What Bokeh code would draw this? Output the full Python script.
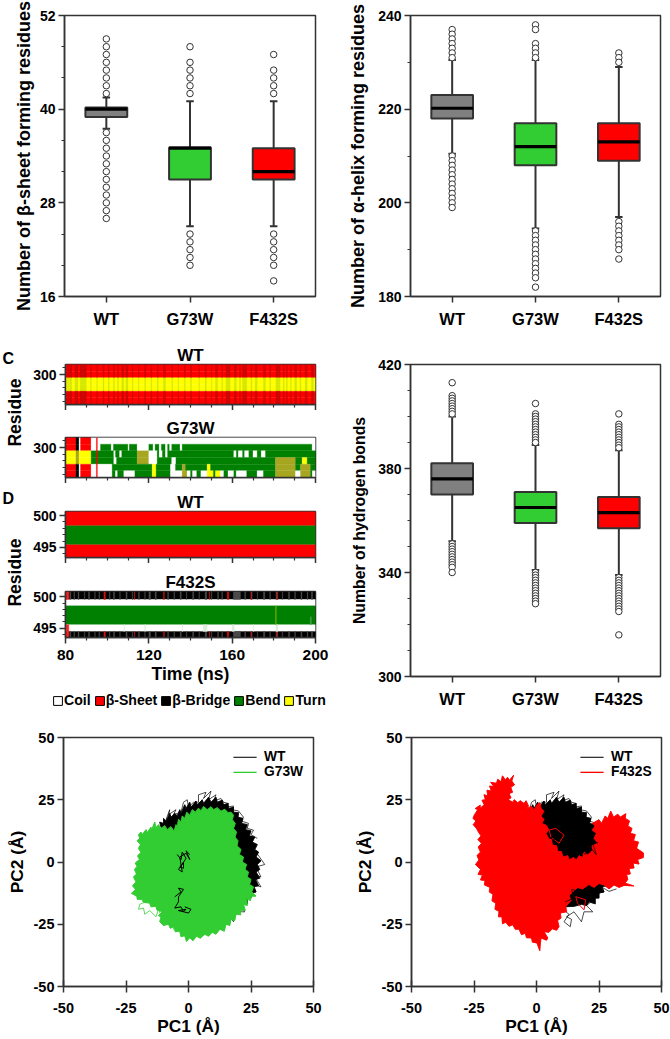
from bokeh.plotting import figure
from bokeh.layouts import column, row
from bokeh.models import (Range1d, FixedTicker, Label, Legend, LegendItem)
from bokeh.embed import file_html
from bokeh.resources import INLINE

FONT = "Liberation Sans"
DARK = "#333333"
GREY, LIME, RED = "#808080", "#32CD32", "#FF0000"
GROUPS = ["WT", "G73W", "F432S"]
BOX_COLORS = [GREY, LIME, RED]
NAN = float("nan")

# ---- box plot statistics: [whisker low, q1, median, q3, whisker high]
A_STATS = [[37.5, 39, 40, 40.2, 41.5], [25, 31, 35, 35.1, 41], [25, 31, 32, 35, 41]]
A_OUT = [[49, 48, 47, 46, 45, 44, 43, 42, 37, 36, 35, 34, 33, 32, 31, 30, 29, 28, 27, 26],
         [48, 46, 45, 44, 43, 42, 24, 23, 22, 21, 20],
         [47, 45, 44, 43, 42, 24, 23, 22, 21, 20, 18]]
B_STATS = [[210.5, 218, 220.2, 223, 230.5], [194.5, 208, 212, 217, 230.5], [197, 209, 213, 217, 229]]
B_OUT = [[237, 236, 235, 234, 233, 232, 231, 210, 209, 208, 207, 206, 205, 204, 203, 202, 201, 200, 199],
         [238, 237, 234, 233, 232, 231, 194, 193, 192, 191, 190, 189, 188, 187, 186, 185, 184, 182],
         [232, 231, 230, 196, 195, 194, 193, 192, 191, 190, 188]]
E_STATS = [[352, 370, 376, 382, 400], [341, 359, 365, 371, 389], [339, 357, 363, 369, 387]]
E_OUT = [[413, 408, 407, 406, 405, 404, 403, 402, 401, 351, 350, 349, 348, 347, 346, 345, 344, 343, 342, 340],
         [405, 401, 400, 399, 398, 397, 396, 395, 394, 393, 392, 391, 390, 340, 339, 338, 337, 336, 335, 334, 333, 332, 331, 330, 329, 328],
         [401, 397, 396, 395, 394, 393, 392, 391, 390, 389, 388, 338, 337, 336, 335, 334, 333, 332, 331, 330, 329, 328, 327, 326, 325, 316]]

# ---- secondary structure: per residue row, list of (run end in ns, state)
C_WT_BASE = {301: "s", 300: "s", 299: "y", 298: "y", 297: "s", 296: "s"}
C_WT_STREAKS = [(81, 81.5), (82, 83), (84.5, 86), (87, 90), (92, 92.4), (95, 95.3), (98, 98.5), (100.5, 101), (103, 103.5), (105, 105.4), (107, 108), (109, 110),
                (112, 112.4), (115, 115.3), (118, 118.5), (121, 121.4), (124, 124.5), (127, 128), (131, 131.4), (134, 134.3), (137, 137.5), (140, 140.5), (144, 144.3),
                (147, 147.6), (150, 150.3), (152, 153), (155, 155.4), (157, 159), (161, 162), (163.5, 164), (165, 167), (169, 169.5), (171, 172), (175, 176), (178, 178.5),
                (181, 183), (184.5, 185), (186, 186.5), (188, 188.4), (190, 191), (192.5, 193), (195, 196), (198, 199)]
C_G73W = {
    301: [(85, "s"), (86.5, "b"), (87.2, "c"), (92.3, "s"), (200, "c")],
    300: [(85, "s"), (86.5, "b"), (87.2, "c"), (92.3, "s"), (96.8, "c"), (102, "g"), (103, "c"), (110, "g"), (110.6, "c"),
          (114.4, "g"), (120, "c"), (122, "g"), (123, "c"), (125, "g"), (126, "c"), (128, "g"), (129, "c"), (130, "g"),
          (131, "c"), (135, "g"), (136, "c"), (198.4, "g"), (200, "c")],
    299: [(85, "y"), (86.5, "o"), (92.3, "y"), (103.2, "g"), (104, "c"), (106, "g"), (107, "c"), (114.4, "g"), (120, "o"),
          (124, "c"), (125, "g"), (126.5, "c"), (128, "g"), (129, "c"), (160.8, "g"), (162, "c"), (163, "g"), (165, "c"),
          (166, "g"), (168, "c"), (170, "g"), (172, "c"), (174, "g"), (176, "c"), (200, "g")],
    298: [(85, "y"), (86.5, "o"), (92.3, "y"), (103.2, "g"), (104.5, "c"), (114.4, "g"), (120, "o"), (124, "c"), (131, "g"),
          (133, "c"), (180.8, "g"), (190.4, "o"), (193.6, "g"), (196, "y"), (200, "g")],
    297: [(85, "s"), (86.5, "b"), (87.2, "c"), (92.3, "s"), (102.4, "c"), (121.6, "g"), (123.5, "y"), (130.4, "g"),
          (132.8, "c"), (136, "g"), (137.6, "o"), (148, "g"), (149.6, "y"), (180.8, "g"), (190.4, "o"), (192.8, "g"),
          (197.6, "o"), (200, "g")],
    296: [(85, "s"), (86.5, "b"), (87.2, "c"), (92.3, "s"), (102.4, "c"), (104, "g"), (105, "c"), (108, "g"), (113.3, "c"),
          (121.6, "g"), (123.5, "y"), (130.4, "g"), (136, "c"), (138.4, "o"), (140, "c"), (141, "g"), (143, "c"), (145, "g"),
          (148, "c"), (151, "y"), (152, "g"), (154.4, "y"), (156, "c"), (158, "g"), (160.8, "c"), (162, "g"), (167, "c"),
          (172, "g"), (175, "c"), (180.8, "g"), (190.4, "o"), (192.8, "c"), (197.6, "o"), (198.5, "g"), (200, "c")],
}
C_G73W_LINE = (94.8, 95.3)
D_WT_BANDS = [(498.4, 500.65, "s"), (495.4, 498.4, "g"), (493.4, 495.4, "s")]
D_F432S_BANDS = [(499.57, 500.85, "b"), (498.56, 499.57, "c"), (495.53, 498.56, "g"), (494.47, 495.53, "c"), (493.5, 494.47, "b")]
D_F432S_GREY = [(82, 82.6), (84, 84.4), (86, 86.5), (89, 89.3), (91, 91.6), (94, 94.3), (96, 96.4), (101, 101.4), (103, 103.6),
                (106, 106.3), (109, 109.6), (112, 112.3), (115, 115.5), (118, 118.3), (120, 120.8), (123, 123.6), (129, 129.5),
                (132, 132.4), (135, 135.6), (138, 138.3), (141, 141.6), (144, 144.3), (147, 147.8), (150, 150.3), (153, 153.5),
                (155, 155.4), (160.5, 164), (166, 166.5), (169, 169.6), (172, 172.3), (175, 175.7), (178, 178.4), (181, 181.6),
                (184, 184.3), (187, 187.6), (190, 190.4), (193, 193.5), (196, 196.4), (198, 198.6)]
D_F432S_RED = [(98.4, 99.2), (127, 127.5), (157.6, 158.4), (113, 113.3), (149, 149.3), (181.5, 181.9), (169, 169.3)]
D_F432S_EDGE = (80.3, 81.6)
D_F432S_PALE = [(108, 108.3), (118, 118.4), (146, 148), (160, 161), (181, 182), (136, 136.3), (170, 170.3)]

# ---- PCA traces, in angstrom
WT_PC = [(-11, 14), (-11.5, 16), (-10, 15.5), (-10, 17.5), (-9, 16.5), (-7.5, 19.5), (-7, 18), (-5.5, 19.5), (-4.5, 18.5), (-3.5, 21), (-3, 19.5),
         (-1.5, 23), (-1, 21.5), (0.5, 24), (1, 22), (3, 24.5), (3.5, 23), (5.5, 25), (6, 23.5), (8, 26), (9, 24), (11, 26), (11.5, 24), (13.5, 24.8),
         (14, 23), (15.8, 23.5), (16, 21.5), (18, 22), (18, 20), (20, 19.8), (19.8, 18), (21.8, 17.5), (21.2, 15.5), (23.5, 15), (22.8, 13), (25, 12.5),
         (24.3, 10.5), (26.5, 10), (25.5, 8), (27.5, 7), (26.5, 5), (28, 4), (27, 2), (29, 0.5), (27.5, -1), (28.5, -3), (27, -4), (28.5, -6.5), (26.8, -7),
         (28, -9.5), (26, -10), (27, -12), (25, -12.5), (25, -14.5), (23.5, -14.5), (23.5, -16.8), (21, -16), (20, -17.5), (18, -17), (15, -17.8), (11, -18),
         (7, -20), (3, -21), (0, -21.5), (-5, -20), (-5.5, -17), (-5, -12), (-4, -5), (-5, 0), (-5, 5), (-7, 10), (-9, 13)]
WT_SCRIBBLE_TOP = [(-9, 17), (-7.5, 21), (-8, 19), (-5, 21), (-6, 19), (-3, 20), (-2, 24), (-0.5, 25), (0, 22), (2, 24), (4, 24), (4, 27), (7, 28), (6, 25.5),
                   (9, 28.5), (8, 25), (11, 27), (10, 24.5), (13, 25.5), (14, 24), (16, 23.5), (15, 22), (18, 22.5), (17.5, 21), (20, 20.5), (22, 18), (21, 16.5), (24, 15.5), (23.5, 13.5), (26, 12.8), (25, 11), (27.5, 9.5)]
WT_SCRIBBLE_RIGHT = [(27, 4), (30.5, -1), (27, -2), (29, -6), (26, -5), (29, -10), (26, -9), (27, -12), (24, -12)]
WT_SCRIBBLE_LOW = [(10.5, -19), (13, -21), (11, -24), (13.5, -26), (14, -23), (12, -22), (15, -20), (18, -24), (19, -20),
                   (22.5, -20), (20, -17.5), (23, -15), (26, -11), (22, -12)]
G73W_PC = [(-20, 10.9), (-19, 12), (-18.5, 11), (-17, 13), (-16.5, 11.8), (-15, 14), (-14.8, 12.8), (-13.5, 16), (-13, 13.8), (-12, 15), (-11, 13.5),
           (-9.5, 14.6), (-8.5, 13), (-7, 14.2), (-5.8, 12.4), (-5, 15), (-4.5, 14), (-4, 17.2), (-3, 16), (-2.5, 18.5), (-1.5, 17.5), (-0.7, 20), (0.5, 18.8),
           (1.5, 21), (2.7, 20), (4, 21.6), (5, 20.6), (6, 22.3), (7.5, 21), (9, 22.2), (10, 21), (11.5, 21.8), (13, 20.4), (14.5, 21.2), (15.8, 19.8), (17, 20),
           (18, 18.8), (17.5, 17), (18.7, 15.5), (18, 13.5), (19.2, 12), (18.6, 10), (19.8, 8.5), (19.4, 6.5), (21, 5), (20.3, 3), (22, 2), (21.5, 0), (23.2, -1),
           (22.6, -3), (24, -4), (23.5, -6), (25, -7), (24.4, -9), (26, -10), (25.3, -12), (27, -13.7), (25, -13.8), (24.8, -15.5), (23.3, -14.8), (23.5, -17.5),
           (22, -17), (22.7, -19.5), (20.7, -19.4), (20.9, -21.2), (19, -21), (18.5, -23.5), (17, -23), (16.5, -25.5), (15, -25), (14.3, -27.8), (12.5, -27),
           (11, -29), (9.5, -28.2), (8, -29.8), (6.5, -29), (4.7, -30.6), (3.2, -29.8), (1.8, -31.6), (0.5, -30.4), (-0.8, -31.9), (-1.5, -29.6), (-3, -30),
           (-3.5, -27.8), (-5.3, -28), (-5.8, -26), (-7.3, -26.6), (-8, -25), (-10, -25.5), (-11.5, -24), (-11, -22), (-12, -21.5), (-10.5, -20), (-12.7, -19.2),
           (-13, -17.8), (-15, -18), (-15.5, -16.5), (-18, -16.2), (-18.6, -15), (-20.5, -15), (-20.6, -13.8), (-22.8, -12.6), (-21.2, -11), (-22.4, -9.5),
           (-21, -8), (-22, -6), (-20.8, -4.8), (-21.6, -3), (-20.6, -1.8), (-21.3, -0.4), (-19.6, 1), (-20.4, 2.5), (-19, 3.8), (-20, 5.5), (-19.2, 7),
           (-20.6, 8.5), (-19.5, 9.5)]
G73W_SCRIBBLE = [(-15, -15), (-19.5, -17), (-20, -19), (-18, -18.5), (-17.5, -21), (-15.5, -19.5), (-13, -22), (-12, -19), (-10, -24), (-7, -22),
                 (-6, -27), (-3, -24), (-1.5, -27), (-1, -30), (1, -27), (3, -26)]
WT_SPOTS_CENTER = [(-4.5, 3), (-3, 1), (-2.5, 4), (-1, 1.5), (-2.5, -1), (-3.5, -2), (-2, -2.5), (-2, 0), (-4, -3), (-2.5, -4), (-3.5, 2), (-1, 3.5), (0.5, 1), (-1, 4.5), (0.5, 3)]
WT_SPOTS_LOW = [(-5.5, -14), (-3, -12), (-4, -10.5), (-2, -11), (-4, -14), (-4, -16), (-5.5, -18.5), (-3, -18), (-2, -20), (-1, -19), (-4, -19.5), (0, -20.5), (1, -19), (-1.5, -18)]
F432S_PC = [(-24.9, 18.8), (-23.5, 21), (-24.5, 21.5), (-22.5, 22.8), (-22.6, 21.5), (-20.9, 23), (-21.8, 24.8), (-20.4, 25), (-21, 27), (-19.5, 26.5), (-19.8, 28.8),
            (-18, 28.5), (-18.8, 30.5), (-17, 30.2), (-18.3, 32), (-16, 31.6), (-15.5, 33.2), (-14.2, 32.2), (-13.6, 34.6), (-12.5, 33), (-11.6, 34), (-10.8, 32.8),
            (-9.2, 34.8), (-9.9, 32.5), (-8.8, 31), (-10.3, 30), (-9.6, 28), (-11, 27.5), (-10.2, 25.8), (-11.4, 25), (-9.5, 24), (-8.9, 25), (-7.5, 23.8), (-6.5, 24.6),
            (-5, 23.5), (-4.2, 24.6), (-3.2, 22.5), (-4, 21.5), (-2, 22.3), (-0.9, 21), (0.2, 23), (1.3, 23.8), (1.8, 21.5), (3, 20.4), (1.8, 18.5), (3, 17), (2, 15.5),
            (3.8, 14.8), (4.9, 13), (3.8, 11.5), (4.8, 9.5), (6, 9), (6.3, 6.8), (8, 6.5), (8.5, 4.2), (10, 4.2), (10.5, 2), (12.5, 2.5), (13, 0.8), (14.8, 1.8), (16, 0.8),
            (17, 2.5), (18.5, 1.8), (19, 4), (20.5, 2.8), (22.5, 4.8), (22.2, 6.5), (24.6, 7.5), (23, 9.5), (24, 11.5), (22.3, 12.8), (23.5, 14.5), (22.4, 15.5), (25, 17),
            (26, 15.5), (27.5, 18.5), (28.5, 17.5), (29.7, 20.4), (30.8, 18), (32.5, 19.2), (33.5, 18), (35.7, 19.4), (35.5, 17.5), (37.2, 16.5), (36.5, 14.5), (38.2, 13.5),
            (37.5, 11.5), (39.5, 11), (38.8, 8.5), (40.8, 8), (40, 5.5), (42.8, 3.6), (42.7, 1.8), (40.4, 1), (41, -0.8), (38.6, -0.4), (39, -2.4), (37, -2.6), (37.5, -4.8),
            (36, -5), (36.5, -7), (35.4, -8.5), (38.9, -9.6), (35, -9.4), (33, -10.2), (31, -9.2), (29, -10.8), (27, -9.2), (25, -8.6), (23, -10.2), (21, -9), (18.4, -10.8),
            (16.5, -10.2), (14.5, -12), (13, -13.5), (13.8, -15.5), (11.7, -17.9), (12, -20), (9.5, -20.5), (9.8, -22.5), (8.4, -23.5), (9, -26), (8, -27.4), (6.3, -26.8),
            (5, -28.2), (3, -28), (4.5, -30.5), (4, -31.4), (1.8, -30.5), (1.5, -33), (1.3, -35.6), (0.2, -32.5), (-1.6, -32.2), (-2, -30.5), (-4, -30.4), (-4.5, -28.6),
            (-6, -29.2), (-7, -27), (-8.5, -27), (-9.5, -25.2), (-11, -25.8), (-12.3, -24.2), (-13.6, -24.8), (-13.8, -22), (-15.2, -22), (-15, -19.8), (-16.6, -19),
            (-16.3, -16.6), (-17.8, -15.6), (-17.4, -13), (-18.9, -12), (-18.6, -10.2), (-20.8, -9.2), (-20.6, -7.4), (-22.4, -7.2), (-21.6, -5.2), (-23.4, -5), (-22.4, -3),
            (-24.4, -1), (-23, 0.8), (-23.8, 2.6), (-22.4, 4), (-23.3, 6), (-22, 7.5), (-23.4, 9), (-22.2, 10.5), (-23.2, 12), (-24, 13.5), (-25.3, 15), (-24.2, 16.5), (-25.4, 17.5)]
F432S_LOOP = [(5.1, 12.8), (7.7, 13.5), (11, 10.8), (9, 7.5), (5.7, 10.1), (5.1, 12.8)]
F432S_LOOP2 = [(15.7, -13.9), (19.7, -15.2), (19, -19.2), (16.4, -16.5), (15.7, -13.9)]
F432S_LACE_RIGHT = [(24.6, 7.5), (22, 9), (24, 2.8), (21.5, 6), (19.5, 3), (17.5, 5), (15, 2.5), (13, 4.5), (11, 2.8), (9.5, 6), (7.5, 7.5), (7, 10), (5, 9.5)]
F432S_LACE_LOW = [(11.5, -16), (15, -14.5), (14, -11), (18, -12), (21, -10), (23, -12.5), (26, -10), (29, -11.8), (32, -10.8)]

STATE_COLORS = {"c": "#FFFFFF", "s": "#FF0000", "b": "#000000", "g": "#008000", "y": "#FFFF00", "o": "#A6A620"}
LEGEND_STATES = [("Coil", "c"), ("β-Sheet", "s"), ("β-Bridge", "b"), ("Bend", "g"), ("Turn", "y")]


def xs(pts):
    return [q[0] for q in pts]


def ys(pts):
    return [q[1] for q in pts]


def base(w, h, l, r, t, b, xrange, yrange):
    p = figure(width=w, height=h, min_border_left=l, min_border_right=r, min_border_top=t, min_border_bottom=b,
               x_range=Range1d(*xrange), y_range=Range1d(*yrange), toolbar_location=None, output_backend="svg")
    p.grid.visible = False
    p.outline_line_color = DARK
    p.outline_line_width = 1.5
    for ax in (p.xaxis[0], p.yaxis[0]):
        ax.axis_line_color = DARK
        ax.axis_line_width = 1.5
        ax.major_tick_line_color = DARK
        ax.major_tick_line_width = 1.5
        ax.minor_tick_line_color = DARK
        ax.minor_tick_line_width = 1.2
        ax.major_tick_in = 0
        ax.major_tick_out = 6
        ax.minor_tick_in = 0
        ax.minor_tick_out = 3
        ax.major_label_text_font = FONT
        ax.major_label_text_font_style = "bold"
        ax.major_label_text_font_size = "14px"
        ax.major_label_text_color = "#000000"
        ax.axis_label_text_font = FONT
        ax.axis_label_text_font_style = "bold"
        ax.axis_label_text_font_size = "16.5px"
        ax.axis_label_text_color = "#000000"
    return p


def letter(p, text, x, y):
    p.add_layout(Label(x=x, y=y, x_units="canvas", y_units="canvas", text=text, text_font=FONT, text_font_style="bold",
                       text_font_size="16px", text_color="#000000", text_baseline="middle"))


def box_panel(w, h, l, r, t, b, yr, major, minor, ylabel, label_size, label_gap, stats, outliers, let, lx, ly):
    p = base(w, h, l, r, t, b, (0.5, 3.5), yr)
    positions = [1, 2, 3]
    p.xaxis[0].ticker = FixedTicker(ticks=positions)
    p.xaxis[0].major_label_overrides = dict(zip(positions, GROUPS))
    p.xaxis[0].major_label_text_font_size = "16.5px"
    p.xaxis[0].major_label_standoff = 7
    p.yaxis[0].ticker = FixedTicker(ticks=major, minor_ticks=minor)
    p.yaxis[0].axis_label = ylabel
    p.yaxis[0].axis_label_text_font_size = label_size
    p.yaxis[0].major_label_standoff = 3
    p.yaxis[0].axis_label_standoff = label_gap
    lo = [s[0] for s in stats]
    q1 = [s[1] for s in stats]
    med = [s[2] for s in stats]
    q3 = [s[3] for s in stats]
    hi = [s[4] for s in stats]
    ox = [pos for pos, out in zip(positions, outliers) for _ in out]
    oy = [v for out in outliers for v in out]
    p.segment(positions, lo, positions, hi, line_color=DARK, line_width=2)
    p.segment([v - 0.045 for v in positions], lo, [v + 0.045 for v in positions], lo, line_color=DARK, line_width=2)
    p.segment([v - 0.045 for v in positions], hi, [v + 0.045 for v in positions], hi, line_color=DARK, line_width=2)
    p.vbar(x=positions, width=0.5, bottom=q1, top=q3, fill_color=BOX_COLORS, line_color=DARK, line_width=2)
    p.segment([v - 0.25 for v in positions], med, [v + 0.25 for v in positions], med, line_color="#000000", line_width=3.2)
    p.scatter(ox, oy, size=6.5, marker="circle", fill_color="#FFFFFF", line_color=DARK, line_width=1)
    letter(p, let, lx, ly)
    return p


def quads(p, left, right, bottom, top, colors):
    p.quad(left=left, right=right, bottom=bottom, top=top, fill_color=colors, line_color=colors, line_width=0.3)


def heat_axes(p, major, minor, labels=False):
    p.xaxis[0].ticker = FixedTicker(ticks=[80, 120, 160, 200], minor_ticks=[90, 100, 110, 130, 140, 150, 170, 180, 190])
    p.yaxis[0].ticker = FixedTicker(ticks=major, minor_ticks=minor)
    p.yaxis[0].major_label_standoff = 3
    if not labels:
        p.xaxis[0].major_label_overrides = {80: "", 120: "", 160: "", 200: ""}


def title(p, text):
    p.title.text = text
    p.title.align = "center"
    p.title.text_font = FONT
    p.title.text_font_style = "bold"
    p.title.text_font_size = "17px"
    p.title.text_color = "#000000"
    p.title.standoff = 0


def runs_panel(p, rows):
    L, R, B, T, C = [], [], [], [], []
    for res, runs in rows.items():
        start = 80
        for end, st in runs:
            L.append(start); R.append(end); B.append(res - 0.5); T.append(res + 0.5); C.append(STATE_COLORS[st])
            start = end
    quads(p, L, R, B, T, C)


def heat_c_wt():
    p = base(311, 80, 41, 20, 34, 6, (80, 200), (295.5, 301.5))
    heat_axes(p, [300], [296, 297, 298, 299, 301])
    title(p, "WT")
    rows = {res: [(200, st)] for res, st in C_WT_BASE.items()}
    runs_panel(p, rows)
    L, R, B, T, C = [], [], [], [], []
    for t0, t1 in C_WT_STREAKS:
        for res, st in C_WT_BASE.items():
            L.append(t0); R.append(t1); B.append(res - 0.5); T.append(res + 0.5)
            C.append("#CC0505" if st == "s" else "#D6E800")
    quads(p, L, R, B, T, C)
    return p


def heat_c_g73w():
    p = base(311, 73, 41, 20, 27, 6, (80, 200), (295.5, 301.5))
    heat_axes(p, [300], [296, 297, 298, 299, 301])
    title(p, "G73W")
    runs_panel(p, C_G73W)
    quads(p, [C_G73W_LINE[0]], [C_G73W_LINE[1]], [295.5], [301.5], ["#FF0000"])
    return p


def heat_d_wt():
    p = base(311, 80, 41, 20, 28, 6, (80, 200), (493.4, 500.65))
    heat_axes(p, [495, 500], [494, 496, 497, 498, 499])
    title(p, "WT")
    quads(p, [80] * 3, [200] * 3, [b[0] for b in D_WT_BANDS], [b[1] for b in D_WT_BANDS], [STATE_COLORS[b[2]] for b in D_WT_BANDS])
    return p


def heat_d_f432s():
    p = base(311, 127, 41, 20, 28, 53, (80, 200), (493.5, 500.85))
    heat_axes(p, [495, 500], [494, 496, 497, 498, 499], labels=True)
    p.xaxis[0].major_label_text_font_size = "15.5px"
    p.xaxis[0].major_label_standoff = 6
    p.xaxis[0].axis_label = "Time (ns)"
    p.xaxis[0].axis_label_text_font_size = "17.6px"
    p.xaxis[0].axis_label_standoff = 1
    title(p, "F432S")
    n = len(D_F432S_BANDS)
    quads(p, [80] * n, [200] * n, [b[0] for b in D_F432S_BANDS], [b[1] for b in D_F432S_BANDS], [STATE_COLORS[b[2]] for b in D_F432S_BANDS])
    for streaks, color in ((D_F432S_GREY, "#4A4A4A"), (D_F432S_RED, "#D01010")):
        L, R, B, T, C = [], [], [], [], []
        for t0, t1 in streaks:
            for y0, y1 in ((499.57, 500.85), (493.5, 494.47)):
                L.append(t0); R.append(t1); B.append(y0); T.append(y1); C.append(color)
        quads(p, L, R, B, T, C)
    L = [v[0] for v in D_F432S_PALE]
    R = [v[1] for v in D_F432S_PALE]
    quads(p, L, R, [494.47] * len(L), [495.53] * len(L), ["#DDEEDD"] * len(L))
    quads(p, [180.8], [181.2], [495.53], [498.56], ["#7FB000"])
    quads(p, [197.5], [198], [495.53], [496.8], ["#55A055"])
    e0, e1 = D_F432S_EDGE
    quads(p, [e0, e0], [e1, e1], [499.57, 493.5], [500.85, 495.53], ["#FF2020", "#FF2020"])
    return p


def strip_panel():
    p = figure(width=24, height=360, min_border=0, x_range=Range1d(0, 1), y_range=Range1d(0, 1), toolbar_location=None,
               output_backend="svg", outline_line_color=None)
    p.axis.visible = False
    p.grid.visible = False
    for text, y in (("Residue", 82), ("Residue", 242)):
        p.add_layout(Label(x=14, y=y, x_units="canvas", y_units="canvas", text=text, angle=90, angle_units="deg",
                           text_font=FONT, text_font_style="bold", text_font_size="17.5px", text_align="center",
                           text_baseline="middle", text_color="#000000"))
    letter(p, "C", 2, 28)
    letter(p, "D", 2, 168)
    return p


def legend_panel():
    p = figure(width=335, height=25, min_border=0, x_range=Range1d(0, 1), y_range=Range1d(0, 1), toolbar_location=None,
               output_backend="svg", outline_line_color=None)
    p.axis.visible = False
    p.grid.visible = False
    items = []
    for name, st in LEGEND_STATES:
        r = p.quad(left=[NAN], right=[NAN], bottom=[NAN], top=[NAN], fill_color=STATE_COLORS[st], line_color="#000000", line_width=1)
        items.append(LegendItem(label=name, renderers=[r]))
    leg = Legend(items=items, orientation="horizontal", location=(52, 7), background_fill_alpha=0, border_line_color=None,
                 glyph_width=11, glyph_height=11, label_height=11, label_standoff=1, spacing=3, padding=0, margin=0,
                 label_text_font=FONT, label_text_font_style="bold", label_text_font_size="14.1px", label_text_color="#000000")
    p.add_layout(leg)
    return p


def pca_panel(w, l, r, other, other_name, other_color, extras, let, lx, ly, legend_x):
    p = base(w, 323, l, r, 22, 51, (-50, 50), (-50, 50))
    for ax in (p.xaxis[0], p.yaxis[0]):
        ax.ticker = FixedTicker(ticks=[-50, -25, 0, 25, 50])
        ax.major_label_overrides = {-50: "-50", -25: "-25", 0: "0", 25: "25", 50: "50"}
        ax.major_label_text_font_size = "14.5px"
        ax.axis_label_text_font_size = "17.3px"
    p.xaxis[0].axis_label_standoff = 0
    p.yaxis[0].axis_label_standoff = 4
    p.xaxis[0].major_tick_in = 6
    p.xaxis[0].major_label_standoff = 10
    p.yaxis[0].major_label_standoff = 3
    p.xaxis[0].axis_label = "PC1 (Å)"
    p.yaxis[0].axis_label = "PC2 (Å)"
    wt_closed = WT_PC + WT_PC[:1]
    p.patch(xs(WT_PC), ys(WT_PC), fill_color="#000000", line_color="#000000", line_width=0.6)
    p.line(xs(wt_closed), ys(wt_closed), line_color="#000000", line_width=0.7)
    for s in (WT_SCRIBBLE_TOP, WT_SCRIBBLE_RIGHT, WT_SCRIBBLE_LOW):
        p.line(xs(s), ys(s), line_color="#000000", line_width=0.7)
    closed = other + other[:1]
    p.patch(xs(other), ys(other), fill_color=other_color, line_color=other_color, line_width=0.6)
    p.line(xs(closed), ys(closed), line_color=other_color, line_width=0.8)
    for s, c, lw in extras:
        p.line(xs(s), ys(s), line_color=c, line_width=lw)
    wt_key = p.quad(left=[NAN], right=[NAN], bottom=[NAN], top=[NAN], fill_color="#333333", line_color=None)
    o_key = p.quad(left=[NAN], right=[NAN], bottom=[NAN], top=[NAN], fill_color=other_color, line_color=None)
    leg = Legend(items=[LegendItem(label="WT", renderers=[wt_key]), LegendItem(label=other_name, renderers=[o_key])],
                 location=legend_x, background_fill_alpha=0, border_line_color=None, glyph_width=29, glyph_height=2,
                 label_height=14, label_standoff=5, spacing=0, padding=0, margin=0, label_text_font=FONT, label_text_font_style="bold",
                 label_text_font_size="13.8px", label_text_color="#000000")
    p.add_layout(leg)
    letter(p, let, lx, ly)
    return p


A = box_panel(335, 330, 64, 20, 15, 34, (16, 52), [16, 28, 40, 52], [20, 24, 32, 36, 44, 48],
              "Number of β-sheet forming residues", "18px", 3, A_STATS, A_OUT, "A", 3, 8)
B = box_panel(335, 330, 75, 10, 15, 34, (180, 240), [180, 200, 220, 240], [190, 210, 230],
              "Number of α-helix forming residues", "18px", 7, B_STATS, B_OUT, "B", 4, 8)
E = box_panel(335, 385, 75, 10, 34, 39, (300, 420), [300, 340, 380, 420], [310, 320, 330, 350, 360, 370, 390, 400, 410],
              "Number of hydrogen bonds", "15.8px", 7, E_STATS, E_OUT, "E", 4, 26)
F = pca_panel(335, 63, 22, G73W_PC, "G73W", LIME,
              [(G73W_SCRIBBLE, LIME, 0.8), (WT_SPOTS_CENTER, "#000000", 1.0), (WT_SPOTS_LOW, "#000000", 1.0)],
              "F", 3, 13, (167, 207))
G = pca_panel(335, 76, 9, F432S_PC, "F432S", RED,
              [(F432S_LOOP, RED, 1.0), (F432S_LOOP2, RED, 1.0), (F432S_LACE_RIGHT, "#000000", 0.7), (F432S_LACE_LOW, "#000000", 0.7)],
              "G", 7, 13, (166, 207))

left_mid = column(row(strip_panel(), column(heat_c_wt(), heat_c_g73w(), heat_d_wt(), heat_d_f432s())), legend_panel())
top = row(column(A, left_mid), column(B, E))
page = column(top, row(F, G))

open("out.html", "w").write(file_html(page, INLINE))
